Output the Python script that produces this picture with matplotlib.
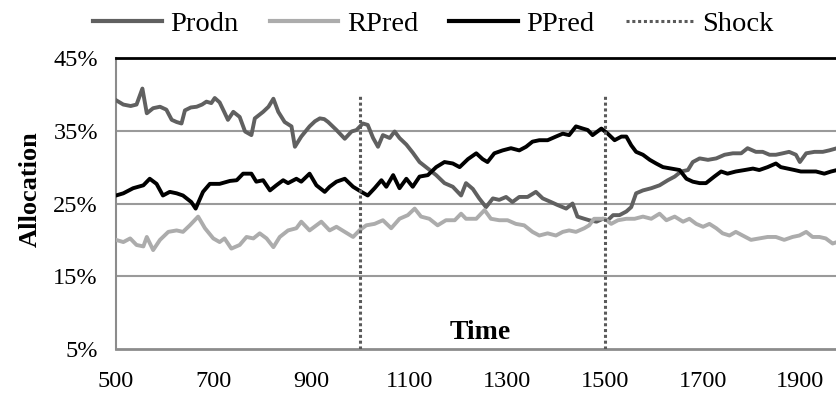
import matplotlib
matplotlib.use("Agg")
import matplotlib.pyplot as plt
from matplotlib.lines import Line2D

plt.rcParams["font.family"] = ["Liberation Serif", "DejaVu Serif"]

# ---------- data ----------
prodn_t = [500, 515, 530, 542, 554, 563, 576, 590, 603, 614, 624, 634, 641, 653, 665, 676, 685, 695, 702, 712, 722, 729, 740,
           753, 764, 777, 784, 801, 812, 822, 832, 845, 859, 866, 879, 896, 907, 917, 926, 934, 951, 968, 982,
           992, 1005, 1015, 1026, 1036, 1046, 1060, 1070, 1080, 1094, 1107, 1121, 1138, 1155, 1172, 1189, 1206, 1216,
           1230, 1243, 1257, 1271, 1284, 1298, 1311, 1325, 1342, 1359, 1373, 1390, 1403, 1421, 1434, 1444, 1458, 1468,
           1483, 1496, 1506, 1517, 1530, 1544, 1554, 1564, 1578, 1595, 1612, 1629, 1643, 1656, 1670, 1680, 1694, 1711,
           1728, 1745, 1762, 1779, 1792, 1809, 1823, 1837, 1850, 1864, 1877, 1891, 1899, 1912, 1929, 1946, 1959, 1975]
prodn_v = [39.2, 38.6, 38.4, 38.6, 40.8, 37.4, 38.1, 38.3, 37.9, 36.5, 36.2, 36.0, 37.8, 38.2, 38.3, 38.6, 39.0, 38.8, 39.5, 38.9, 37.5, 36.5, 37.6,
           36.9, 34.9, 34.4, 36.7, 37.6, 38.3, 39.4, 37.6, 36.2, 35.6, 32.8, 34.2, 35.6, 36.3, 36.7, 36.6, 36.2, 35.1, 33.9, 34.9,
           35.1, 36.0, 35.8, 34.0, 32.8, 34.4, 34.0, 34.9, 34.0, 33.1, 32.0, 30.7, 29.8, 28.9, 27.8, 27.3, 26.1, 27.8,
           27.0, 25.7, 24.5, 25.7, 25.5, 25.9, 25.2, 25.9, 25.9, 26.6, 25.7, 25.2, 24.8, 24.3, 25.0, 23.2, 22.9, 22.7,
           22.5, 22.9, 22.7, 23.4, 23.4, 23.9, 24.5, 26.4, 26.8, 27.1, 27.5, 28.2, 28.7, 29.4, 29.6, 30.7, 31.2, 31.0,
           31.2, 31.7, 31.9, 31.9, 32.6, 32.1, 32.1, 31.7, 31.7, 31.9, 32.1, 31.7, 30.7, 31.9, 32.1, 32.1, 32.3, 32.6]

rpred_t = [500, 515, 529, 542, 556, 563, 576, 590, 607, 624, 637, 651, 668, 682, 699, 712, 722, 736,
           753, 767, 781, 794, 808, 822, 835, 852, 869, 879, 896, 920, 937, 951, 968, 985,
           998, 1012, 1029, 1046, 1063, 1080, 1097, 1111, 1124, 1141, 1158, 1175, 1193, 1206, 1216,
           1237, 1254, 1267, 1284, 1301, 1318, 1335, 1352, 1366, 1383, 1400, 1414, 1427, 1441, 1458, 1468, 1478,
           1500, 1513, 1527, 1544, 1561, 1578, 1595, 1612, 1626, 1643, 1660, 1673, 1687, 1701, 1714,
           1728, 1741, 1755, 1768, 1782, 1799, 1816, 1833, 1850, 1867, 1884, 1898, 1912, 1925, 1939, 1952, 1966, 1975]
rpred_v = [20.0, 19.7, 20.2, 19.3, 19.1, 20.4, 18.6, 20.0, 21.1, 21.3, 21.1, 22.0, 23.2, 21.6, 20.2, 19.7, 20.2, 18.8,
           19.3, 20.4, 20.2, 20.9, 20.2, 19.0, 20.4, 21.3, 21.6, 22.5, 21.3, 22.5, 21.3, 21.8, 21.1, 20.4,
           21.3, 22.0, 22.2, 22.7, 21.6, 22.9, 23.4, 24.3, 23.2, 22.9, 22.0, 22.7, 22.7, 23.6, 22.9,
           22.9, 24.1, 22.9, 22.7, 22.7, 22.2, 22.0, 21.1, 20.6, 20.9, 20.6, 21.1, 21.3, 21.1, 21.6, 22.0, 22.9,
           22.9, 22.2, 22.7, 22.9, 22.9, 23.2, 22.9, 23.6, 22.7, 23.2, 22.5, 22.9, 22.2, 21.8, 22.2,
           21.6, 20.9, 20.6, 21.1, 20.6, 20.0, 20.2, 20.4, 20.4, 20.0, 20.4, 20.6, 21.1, 20.4, 20.4, 20.2, 19.5, 19.7]

ppred_t = [500, 515, 535, 556, 569, 583, 596, 610, 624, 637, 654, 663, 678, 692, 712, 733,
           747, 760, 777, 787, 801, 815, 828, 842, 852, 869, 879, 896, 910, 927, 937, 951, 968, 985,
           1002, 1015, 1029, 1043, 1053, 1067, 1080, 1094, 1107, 1121, 1138, 1155, 1172, 1189, 1203, 1220,
           1237, 1250, 1260, 1274, 1291, 1308, 1325, 1339, 1352, 1366, 1383, 1400, 1414, 1427, 1441, 1455, 1465, 1475,
           1493, 1506, 1520, 1534, 1544, 1554, 1564, 1578, 1592, 1605, 1619, 1636, 1653, 1667, 1680, 1694, 1707,
           1724, 1738, 1751, 1768, 1786, 1803, 1816, 1833, 1850, 1860, 1874, 1888, 1901, 1915, 1932, 1949, 1963, 1975]
ppred_v = [26.1, 26.4, 27.1, 27.5, 28.4, 27.7, 26.1, 26.6, 26.4, 26.1, 25.2, 24.3, 26.6, 27.7, 27.7, 28.1,
           28.2, 29.1, 29.1, 28.0, 28.2, 26.8, 27.5, 28.2, 27.8, 28.4, 28.0, 29.1, 27.5, 26.6, 27.3, 28.0, 28.4, 27.3,
           26.6, 26.1, 27.1, 28.2, 27.3, 28.9, 27.1, 28.4, 27.3, 28.7, 28.9, 30.0, 30.7, 30.5, 30.0, 31.1,
           31.9, 31.1, 30.7, 31.9, 32.3, 32.6, 32.3, 32.8, 33.5, 33.7, 33.7, 34.2, 34.6, 34.4, 35.6, 35.3, 35.1, 34.4,
           35.3, 34.6, 33.7, 34.2, 34.2, 33.0, 32.1, 31.7, 31.0, 30.5, 30.0, 29.8, 29.6, 28.4, 28.0, 27.8, 27.8,
           28.7, 29.4, 29.1, 29.4, 29.6, 29.8, 29.6, 30.0, 30.5, 30.0, 29.8, 29.6, 29.4, 29.4, 29.4, 29.1, 29.4, 29.6]

shock_t = [1000, 1500]
shock_top = 40.0
y_ticks = [5, 15, 25, 35, 45]
x_ticks = [500, 700, 900, 1100, 1300, 1500, 1700, 1900]

C_PRODN, C_RPRED, C_PPRED, C_SHOCK = "#606060", "#acacac", "#000000", "#5a5a5a"

fig = plt.figure(figsize=(8.37, 3.94), dpi=100)
ax = fig.add_axes([116 / 837, 45 / 394, 1 - 116 / 837, 291 / 394])

ax.plot(prodn_t, prodn_v, c=C_PRODN, lw=2.8, zorder=3)
ax.plot(rpred_t, rpred_v, c=C_RPRED, lw=2.8, zorder=3)
ax.plot(ppred_t, ppred_v, c=C_PPRED, lw=2.8, zorder=4)
for s in shock_t:
    ax.plot([s, s], [5, shock_top], c=C_SHOCK, lw=2.2, ls=(0, (1, 0.9)), zorder=5)

ax.set_xlim(500, 1975)
ax.set_ylim(5, 45)
ax.set_xticks(x_ticks)
ax.set_yticks(y_ticks)
ax.set_yticklabels([f"{v}%" for v in y_ticks])
ax.tick_params(axis="both", length=0, labelsize=17.5)
ax.tick_params(axis="y", pad=13)
ax.tick_params(axis="x", pad=16)
for v in (15, 25, 35):
    ax.axhline(v, c="#9a9a9a", lw=1.5, zorder=1)
ax.spines["right"].set_visible(False)
ax.spines["top"].set_color("black")
ax.spines["top"].set_linewidth(2)
ax.spines["left"].set_color("#8c8c8c")
ax.spines["left"].set_linewidth(1.5)
ax.spines["bottom"].set_color("#8c8c8c")
ax.spines["bottom"].set_linewidth(2)

ax.text(0.505, 0.055, "Time", transform=ax.transAxes, ha="center", va="center",
        fontsize=20, fontweight="bold")
fig.text(0.036, 0.52, "Allocation", rotation=90, ha="center", va="center",
         fontsize=19, fontweight="bold")

handles = [Line2D([], [], c=C_PRODN, lw=3), Line2D([], [], c=C_RPRED, lw=3),
           Line2D([], [], c=C_PPRED, lw=3), Line2D([], [], c=C_SHOCK, lw=2.2, ls=(0, (1, 0.9)))]
fig.legend(handles, ["Prodn", "RPred", "PPred", "Shock"], ncol=4, frameon=False,
           loc="center", bbox_to_anchor=(0.518, 0.94), fontsize=20.5,
           handlelength=2.4, handletextpad=0.3, columnspacing=1.1)

fig.savefig("out.png", dpi=100)
